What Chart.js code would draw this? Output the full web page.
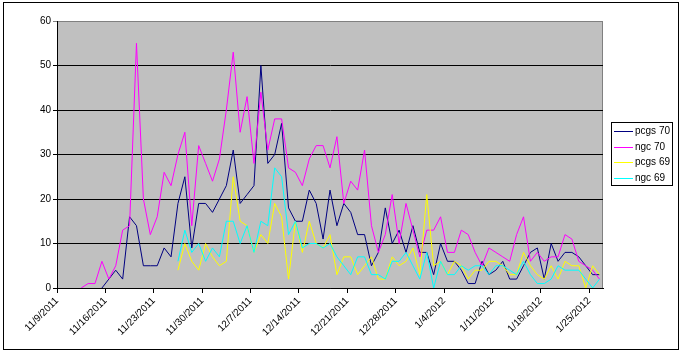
<!DOCTYPE html>
<html><head><meta charset="utf-8">
<script src="https://cdn.jsdelivr.net/npm/chart.js@4/dist/chart.umd.min.js"></script>
<style>html,body{margin:0;padding:0;background:#fff;}#wrap{position:relative;width:683px;height:355px;}</style>
</head><body><div id="wrap"><canvas id="c" width="683" height="355"></canvas></div>
<script>
const dates = [
'11/9/2011','11/10/2011','11/11/2011','11/12/2011','11/13/2011','11/14/2011','11/15/2011','11/16/2011','11/17/2011','11/18/2011','11/19/2011','11/20/2011','11/21/2011','11/22/2011','11/23/2011','11/24/2011','11/25/2011','11/26/2011','11/27/2011','11/28/2011','11/29/2011','11/30/2011',
'12/1/2011','12/2/2011','12/3/2011','12/4/2011','12/5/2011','12/6/2011','12/7/2011','12/8/2011','12/9/2011','12/10/2011','12/11/2011','12/12/2011','12/13/2011','12/14/2011','12/15/2011','12/16/2011','12/17/2011','12/18/2011','12/19/2011','12/20/2011','12/21/2011','12/22/2011','12/23/2011','12/24/2011','12/25/2011','12/26/2011','12/27/2011','12/28/2011','12/29/2011','12/30/2011','12/31/2011',
'1/1/2012','1/2/2012','1/3/2012','1/4/2012','1/5/2012','1/6/2012','1/7/2012','1/8/2012','1/9/2012','1/10/2012','1/11/2012','1/12/2012','1/13/2012','1/14/2012','1/15/2012','1/16/2012','1/17/2012','1/18/2012','1/19/2012','1/20/2012','1/21/2012','1/22/2012','1/23/2012','1/24/2012','1/25/2012','1/26/2012'];
const tickLabels = ['11/9/2011','11/16/2011','11/23/2011','11/30/2011','12/7/2011','12/14/2011','12/21/2011','12/28/2011','1/4/2012','1/11/2012','1/18/2012','1/25/2012'];
const yTicks = [0,10,20,30,40,50,60];
const seriesNames = ['pcgs 70','ngc 70','pcgs 69','ngc 69'];
const seriesColors = ['#000080','#FF00FF','#FFFF00','#00FFFF'];
const pcgs70 = [null,null,null,null,null,null,0,2,4,2,16,14,5,5,5,9,7,19,25,9,19,19,17,20,23,31,19,21,23,50,28,30,37,18,15,15,22,19,11,22,14,19,17,12,12,5,8,18,10,13,8,14,8,8,3,10,6,6,4,1,1,6,3,4,6,2,2,5,8,9,2,10,6,8,8,7,5,3,3];
const ngc70 = [null,null,null,0,1,1,6,2,5,13,14,55,20,12,16,26,23,30,35,14,32,28,24,29,40,53,35,43,28,44,31,38,38,27,26,23,29,32,32,27,34,19,24,22,31,14,8,12,21,10,19,13,7,13,13,16,8,8,13,12,8,5,9,8,7,6,12,16,6,8,6,7,7,12,11,6,5,4,2];
const pcgs69 = [null,null,null,null,null,null,null,null,null,null,null,null,null,null,null,null,null,4,10,6,4,10,7,5,6,25,15,14,8,12,10,19,16,2,15,8,15,10,9,12,3,7,7,3,5,7,2,2,7,5,6,9,3,21,5,6,3,6,5,2,4,4,6,6,5,3,3,8,5,3,2,5,2,6,5,5,0,5,3];
const ngc69 = [null,null,null,null,null,null,null,null,null,null,null,null,null,null,null,null,null,6,13,8,10,6,9,7,15,15,10,14,8,15,14,27,25,12,15,9,10,10,9,10,7,5,3,7,7,3,3,2,6,6,8,5,2,8,0,6,3,3,5,4,5,5,3,5,5,4,3,6,3,1,1,2,5,4,4,4,2,0,2];

const allSeries = [pcgs70, ngc70, pcgs69, ngc69];
const FONT = {family: "'Liberation Sans', Arial, sans-serif", size: 10};

const bgPlugin = {
  id: 'bg',
  beforeDraw(chart) {
    const {ctx, chartArea: a} = chart;
    ctx.save();
    ctx.fillStyle = '#fff';
    ctx.fillRect(0, 0, chart.width, chart.height);
    ctx.fillStyle = '#C0C0C0';
    ctx.fillRect(a.left, a.top, a.right - a.left, a.bottom - a.top);
    ctx.strokeStyle = '#808080';
    ctx.lineWidth = 1;
    ctx.beginPath();
    ctx.moveTo(a.left, a.top + 0.5); ctx.lineTo(a.right - 0.5, a.top + 0.5); ctx.lineTo(a.right - 0.5, a.bottom);
    ctx.stroke();
    ctx.restore();
  },
  afterDraw(chart) {
    const ctx = chart.ctx;
    ctx.save();
    ctx.strokeStyle = '#000';
    ctx.lineWidth = 1;
    ctx.strokeRect(3.5, 2.5, 675, 347);
    // legend
    const bx = 611.5, by = 122.5, bw = 61, bh = 63;
    ctx.fillStyle = '#fff';
    ctx.fillRect(bx, by, bw, bh);
    ctx.strokeRect(bx, by, bw, bh);
    ctx.font = "10px 'Liberation Sans', Arial, sans-serif";
    ctx.textBaseline = 'middle';
    ctx.textAlign = 'left';
    chart.data.datasets.forEach((ds, k) => {
      const y = Math.round(131 + k * 15.7) + 0.5;
      ctx.strokeStyle = ds.borderColor;
      ctx.beginPath(); ctx.moveTo(614, y); ctx.lineTo(633, y); ctx.stroke();
      ctx.fillStyle = '#000';
      ctx.fillText(ds.label, 635, y);
    });
    ctx.restore();
  }
};

const datasets = allSeries.map((vals, k) => ({
  label: seriesNames[k],
  data: vals.map((v, i) => ({x: i + 0.5, y: v})),
  borderColor: seriesColors[k],
  backgroundColor: seriesColors[k],
  borderWidth: 1,
  pointRadius: 0,
  tension: 0,
  spanGaps: false,
  order: 3 - k
}));

new Chart(document.getElementById('c').getContext('2d'), {
  type: 'line',
  data: {datasets},
  options: {
    responsive: false,
    animation: false,
    devicePixelRatio: 1,
    layout: {padding: {left: 0, top: 21, right: 80, bottom: 0}},
    plugins: {legend: {display: false}, tooltip: {enabled: false}},
    scales: {
      x: {
        type: 'linear',
        min: 0,
        max: dates.length,
        afterBuildTicks: ax => { ax.ticks = tickLabels.map(l => ({value: dates.indexOf(l)})); },
        afterFit: ax => { ax.height = 67; ax.paddingLeft = 0; ax.paddingRight = 0; },
        grid: {drawOnChartArea: false, drawTicks: true, tickLength: 5, color: '#000', lineWidth: 1},
        border: {color: '#000', width: 1},
        ticks: {autoSkip: false, maxRotation: 45, minRotation: 45, padding: 2, color: '#000', font: FONT,
          callback: v => dates[v]}
      },
      y: {
        min: 0,
        max: 60,
        afterBuildTicks: ax => { ax.ticks = yTicks.map(v => ({value: v})); },
        afterFit: ax => { ax.width = 57; ax.paddingTop = 0; ax.paddingBottom = 0; },
        grid: {color: c => (c.tick && c.tick.value === 60) ? '#808080' : '#000', lineWidth: 1, tickLength: 4},
        border: {color: '#000', width: 1},
        ticks: {padding: 2, color: '#000', font: FONT}
      }
    }
  },
  plugins: [bgPlugin]
});
</script>
</body></html>
